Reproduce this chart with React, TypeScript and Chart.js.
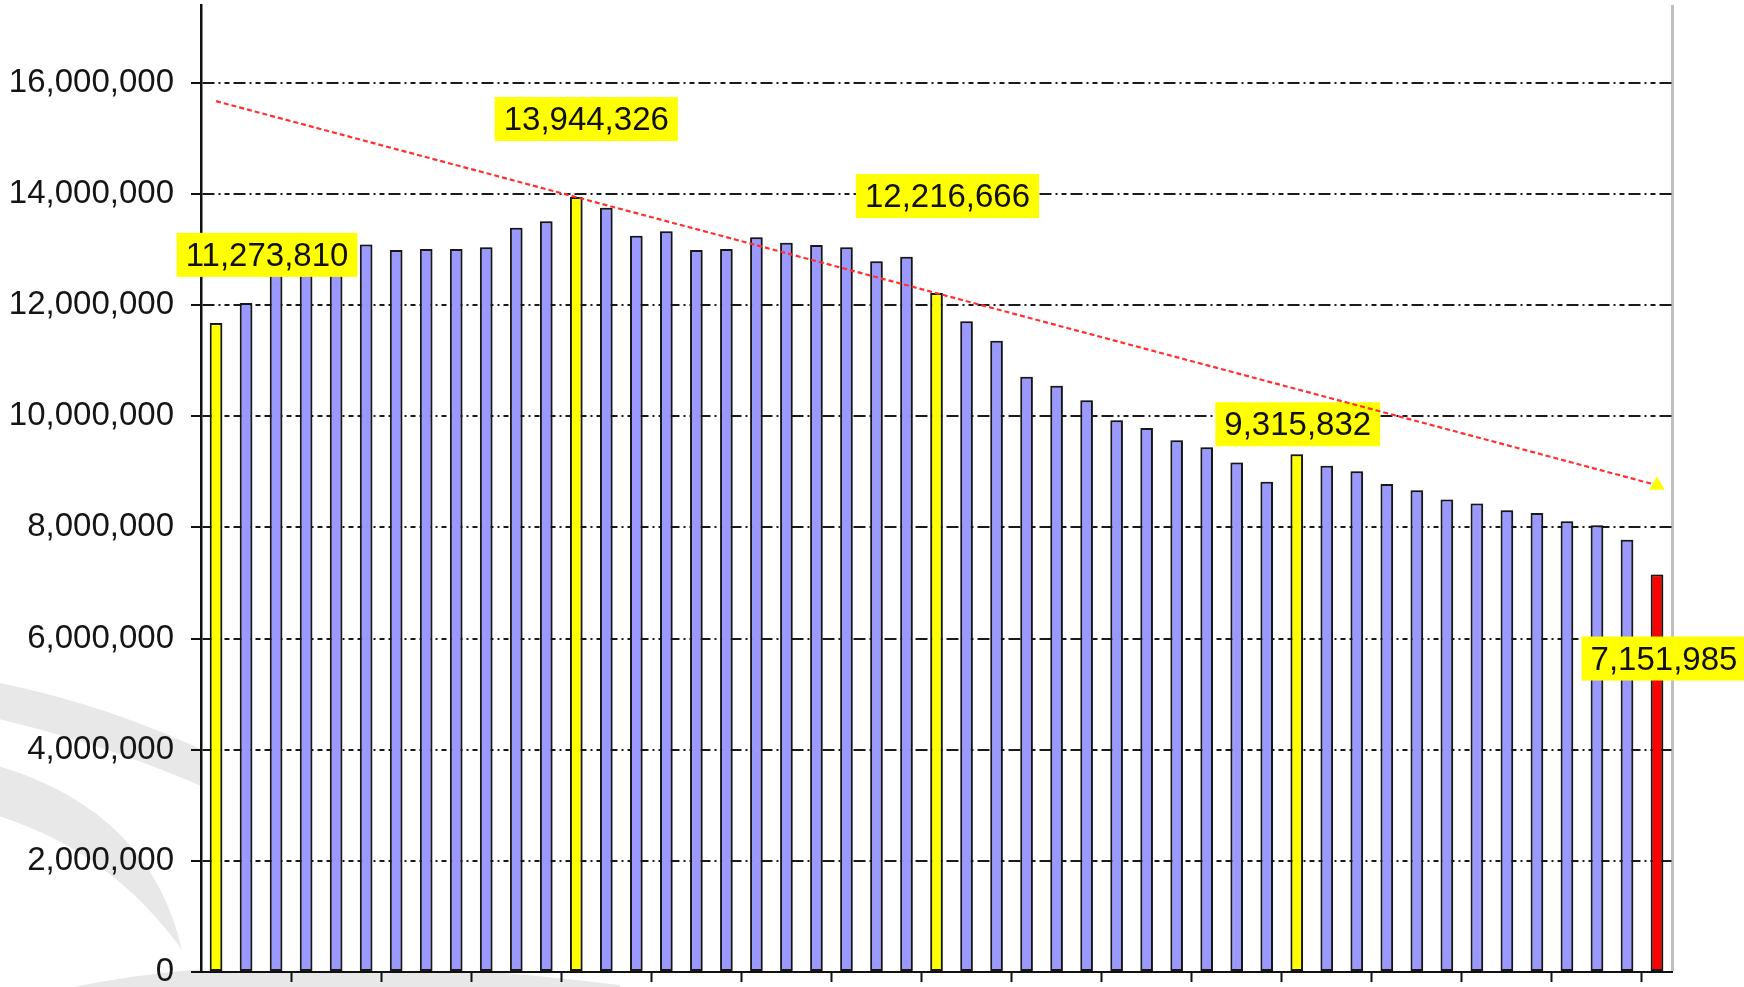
import React, { useEffect, useRef } from 'react';
import { Chart, registerables } from 'chart.js';

Chart.register(...registerables);

// ---------- data ----------
const categories = [
  '1', '2', '3', '4', '5', '6', '7', '8', '9', '10',
  '11', '12', '13', '14', '15', '16', '17', '18', '19', '20',
  '21', '22', '23', '24', '25', '26', '27', '28', '29', '30',
  '31', '32', '33', '34', '35', '36', '37', '38', '39', '40',
  '41', '42', '43', '44', '45', '46', '47', '48', '49',
];

const values = [
  11680000, 12040000, 12560000, 12700000, 12850000, 13090000, 12990000, 13010000, 13010000, 13040000,
  13390000, 13510000, 13944326, 13750000, 13250000, 13330000, 12990000, 13010000, 13220000, 13120000,
  13080000, 13040000, 12790000, 12870000, 12216666, 11710000, 11360000, 10710000, 10550000, 10290000,
  9930000, 9790000, 9570000, 9440000, 9170000, 8820000, 9315832, 9110000, 9010000, 8780000,
  8670000, 8500000, 8430000, 8310000, 8260000, 8110000, 8040000, 7780000, 7151985,
];

// highlighted bars and their call-out texts
const highlightIndex = [0, 12, 24, 36, 48];
const highlightLabels = ['11,273,810', '13,944,326', '12,216,666', '9,315,832', '7,151,985'];
const lastIndex = 48;

// trend arrow (start and end)
const trendPoints = [
  { x: '1', y: 15670000 },
  { x: '49', y: 8760000 },
];

// y axis ticks
const yTickValues = [0, 2000000, 4000000, 6000000, 8000000, 10000000, 12000000, 14000000, 16000000];
const yMax = 17400000;

// ---------- layout / style (not data) ----------
const labelOffsets = [
  [51, -68],
  [10, -78],
  [11, -97],
  [1, -30],
  [7, 84],
];
const FONT = '"Liberation Sans", Arial, Helvetica, sans-serif';
const BLUE = '#9999ff';
const YELLOW = '#ffff00';
const RED = '#ff0000';

const barColors = values.map((_, i) =>
  i === lastIndex ? RED : highlightIndex.includes(i) ? YELLOW : BLUE
);

const watermarkPlugin = {
  id: 'watermark',
  beforeDraw(chart: any) {
    const { ctx, chartArea: a } = chart;
    ctx.save();
    ctx.fillStyle = '#e7e8e7';
    ctx.beginPath();
    ctx.moveTo(-5, 682);
    ctx.quadraticCurveTo(110, 705, 215, 756);
    ctx.lineTo(215, 792);
    ctx.quadraticCurveTo(110, 745, -5, 718);
    ctx.closePath();
    ctx.fill();
    ctx.beginPath();
    ctx.moveTo(-5, 765);
    ctx.quadraticCurveTo(150, 810, 182, 950);
    ctx.quadraticCurveTo(110, 850, -5, 815);
    ctx.closePath();
    ctx.fill();
    ctx.beginPath();
    ctx.moveTo(40, 995);
    ctx.quadraticCurveTo(250, 940, 620, 985);
    ctx.lineTo(620, 1020);
    ctx.quadraticCurveTo(250, 975, 60, 1020);
    ctx.closePath();
    ctx.fill();
    ctx.fillStyle = '#ffffff';
    ctx.fillRect(a.left, a.top, a.right - a.left, a.bottom - a.top);
    ctx.restore();
  },
};

const labelPlugin = {
  id: 'calloutLabels',
  beforeDatasetDraw(chart: any, args: any) {
    if (args.index !== 0) return;
    const ctx = chart.ctx;
    ctx.save();
    ctx.shadowColor = 'rgba(0,0,0,0.4)';
    ctx.shadowBlur = 3;
    ctx.shadowOffsetX = 1;
    ctx.shadowOffsetY = 0;
  },
  afterDatasetDraw(chart: any, args: any) {
    if (args.index !== 0) return;
    const ctx = chart.ctx;
    ctx.restore();
    const meta = chart.getDatasetMeta(0);
    ctx.save();
    ctx.font = `33px ${FONT}`;
    ctx.textAlign = 'center';
    ctx.textBaseline = 'middle';
    highlightIndex.forEach((idx, i) => {
      const bar = meta.data[idx];
      const cx = bar.x + labelOffsets[i][0];
      const cy = bar.y + labelOffsets[i][1];
      const text = highlightLabels[i];
      const w = ctx.measureText(text).width + 18;
      const h = 44;
      ctx.fillStyle = YELLOW;
      ctx.fillRect(cx - w / 2, cy - h / 2, w, h);
      ctx.fillStyle = '#111111';
      ctx.fillText(text, cx, cy + 2);
    });
    ctx.restore();
  },
};

export default function App() {
  const canvasRef = useRef<HTMLCanvasElement | null>(null);

  useEffect(() => {
    if (!canvasRef.current) return;
    const chart = new Chart(canvasRef.current, {
      type: 'bar',
      data: {
        labels: categories,
        datasets: [
          {
            type: 'bar',
            data: values,
            order: 2,
            backgroundColor: barColors,
            borderColor: '#1a1a1a',
            borderWidth: 2,
            borderSkipped: false,
            categoryPercentage: 1,
            barPercentage: 0.42,
          } as any,
          {
            type: 'line',
            data: trendPoints as any,
            order: 1,
            borderColor: '#ff3030',
            borderWidth: 2.2,
            borderDash: [5, 3],
            fill: false,
            tension: 0,
            clip: false,
            pointRadius: [0, 9],
            pointHoverRadius: [0, 9],
            pointStyle: 'triangle',
            pointRotation: 0,
            pointBackgroundColor: YELLOW,
            pointBorderWidth: 0,
            pointBorderColor: YELLOW,
          } as any,
        ],
      },
      options: {
        responsive: false,
        animation: false,
        devicePixelRatio: 1,
        events: [],
        layout: { autoPadding: false, padding: { left: 0, right: 72, top: 5, bottom: 0 } },
        plugins: {
          legend: { display: false },
          tooltip: { enabled: false },
          title: { display: false },
        },
        scales: {
          x: {
            type: 'category',
            offset: true,
            ticks: { display: false },
            grid: {
              offset: true,
              drawOnChartArea: true,
              drawTicks: true,
              tickLength: 10,
              color: (c: any) => (c.type === 'scale' ? '#c0c0c0' : 'rgba(0,0,0,0)'),
              lineWidth: (c: any) => (c.type === 'scale' ? 3 : 1),
              tickColor: (c: any) =>
                c.type === 'tick' && c.index > 0 && c.index % 3 === 0 ? '#111111' : 'rgba(0,0,0,0)',
              tickWidth: 2,
            },
            border: { display: true, color: '#111111', width: 2 },
            afterFit: (s: any) => {
              s.height = 15;
              s.paddingLeft = 0;
              s.paddingRight = 0;
            },
          },
          y: {
            type: 'linear',
            min: 0,
            max: yMax,
            ticks: {
              autoSkip: false,
              padding: 17,
              color: '#151515',
              font: { family: FONT, size: 33 },
              callback: (v: any) => Number(v).toLocaleString('en-US'),
            },
            afterBuildTicks: (s: any) => {
              s.ticks = yTickValues.map((v) => ({ value: v }));
            },
            grid: {
              color: '#1a1a1a',
              lineWidth: 2,
              tickLength: 10,
              tickColor: '#111111',
              tickWidth: 2,
              tickBorderDash: [],
            },
            border: { display: true, color: '#111111', width: 2.5, dash: [12, 4, 2, 4, 5, 4] },
            afterFit: (s: any) => {
              s.width = 201;
              s.paddingTop = 0;
              s.paddingBottom = 0;
            },
          },
        },
      } as any,
      plugins: [watermarkPlugin, labelPlugin],
    });
    return () => chart.destroy();
  }, []);

  return (
    <div style={{ position: 'fixed', left: 0, top: 0, width: 1744, height: 987, background: '#fff' }}>
      <canvas ref={canvasRef} width={1744} height={987} style={{ display: 'block' }} />
    </div>
  );
}
